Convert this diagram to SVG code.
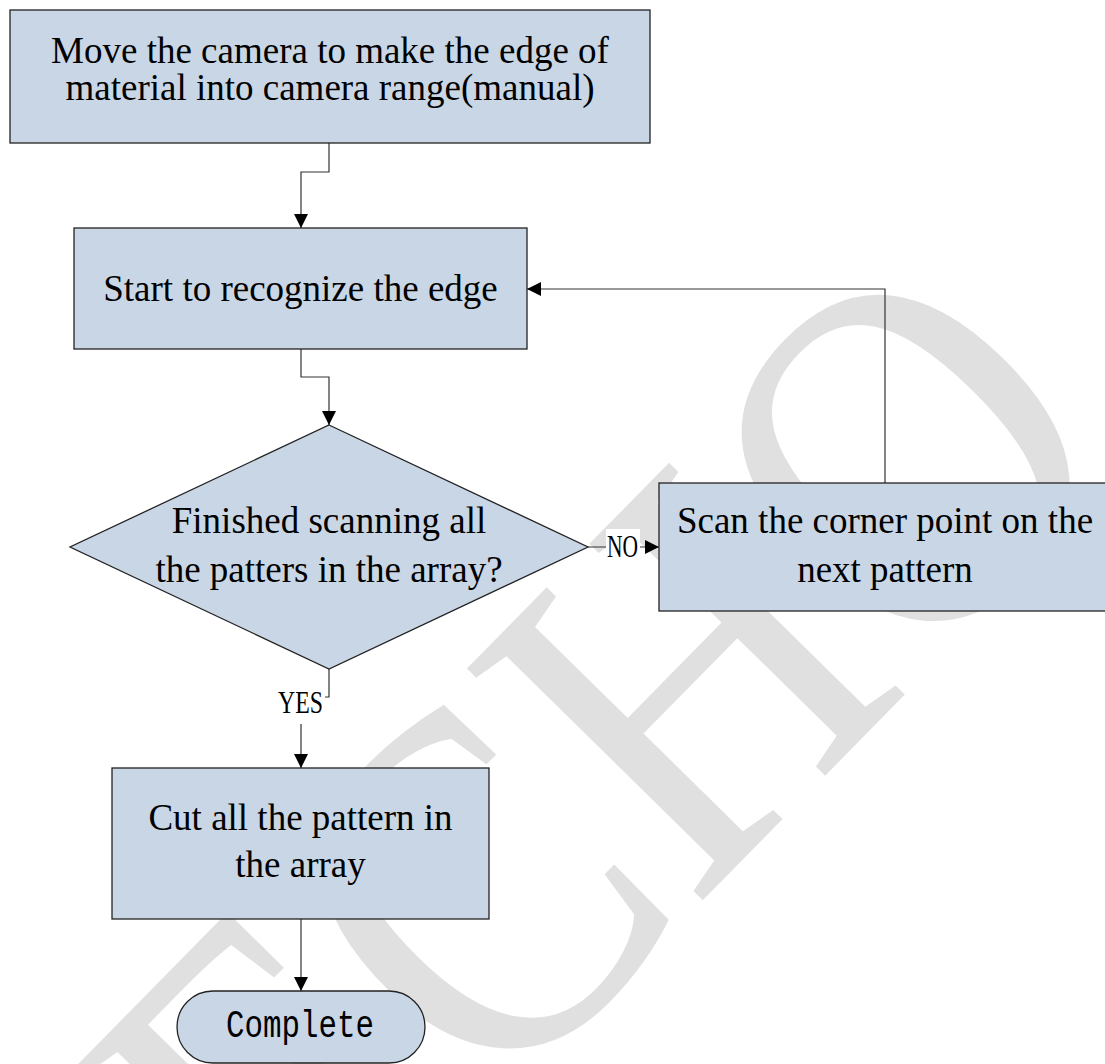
<svg xmlns="http://www.w3.org/2000/svg" width="1105" height="1064" viewBox="0 0 1105 1064">
<defs>
<marker id="ah" markerUnits="userSpaceOnUse" markerWidth="14" markerHeight="14" refX="14" refY="7" orient="auto">
<path d="M0,0 L14,7 L0,14 z" fill="#000"/>
</marker>
<style>
.box{fill:#c9d6e5;stroke:#222;stroke-width:1.3}
.t{font-family:"Liberation Serif","Times New Roman",serif;font-size:37px;fill:#000;text-anchor:middle}
.lbl{font-family:"Liberation Serif","Times New Roman",serif;font-size:32px;fill:#000}
.mono{font-family:"Liberation Mono","Courier New",monospace;font-size:38px;fill:#000}
.ln{fill:none;stroke:#333;stroke-width:1.2}
.wm{font-family:"Liberation Serif","Times New Roman",serif;font-size:505px;fill:#e0e0e0}
</style>
</defs>
<rect x="0" y="0" width="1105" height="1064" fill="#fff"/>
<g id="watermark">
<text class="wm" transform="translate(305 1305) rotate(-45.5) scale(0.86 1)">ECHO</text>
</g>
<g id="connectors">
<path class="ln" d="M329,143 V172 H301 V228" marker-end="url(#ah)"/>
<path class="ln" d="M301,349 V377 H329 V425" marker-end="url(#ah)"/>
<path class="ln" d="M588,547 H659" marker-end="url(#ah)"/>
<path class="ln" d="M885,483 V289 H527" marker-end="url(#ah)"/>
<path class="ln" d="M329,669 V697 H301 V768" marker-end="url(#ah)"/>
<path class="ln" d="M301,919 V991" marker-end="url(#ah)"/>
<rect x="606" y="529" width="34" height="34" fill="#fff"/>
<text class="lbl" x="607" y="557" textLength="31" lengthAdjust="spacingAndGlyphs">NO</text>
<rect x="276" y="689" width="49" height="35" fill="#fff"/>
<text class="lbl" x="278" y="713" textLength="45" lengthAdjust="spacingAndGlyphs">YES</text>
</g>
<g id="n1">
<rect class="box" x="10" y="10" width="640" height="133"/>
<text class="t" x="330" y="63">Move the camera to make the edge of</text>
<text class="t" x="330" y="100">material into camera range(manual)</text>
</g>
<g id="n2">
<rect class="box" x="74" y="228" width="453" height="121"/>
<text class="t" x="300.5" y="301">Start to recognize the edge</text>
</g>
<g id="n3">
<polygon class="box" points="329,425 588,547 329,669 70,547"/>
<text class="t" x="329" y="533">Finished scanning all</text>
<text class="t" x="329" y="582">the patters in the array?</text>
</g>
<g id="n4">
<rect class="box" x="659" y="483" width="452" height="128"/>
<text class="t" x="885" y="533">Scan the corner point on the</text>
<text class="t" x="885" y="582">next pattern</text>
</g>
<g id="n5">
<rect class="box" x="112" y="768" width="377" height="151"/>
<text class="t" x="300.5" y="830">Cut all the pattern in</text>
<text class="t" x="300.5" y="877">the array</text>
</g>
<g id="n6">
<rect class="box" x="177" y="991" width="248" height="72" rx="36" ry="36"/>
<text class="mono" x="226" y="1037" textLength="148" lengthAdjust="spacingAndGlyphs">Complete</text>
</g>
</svg>
